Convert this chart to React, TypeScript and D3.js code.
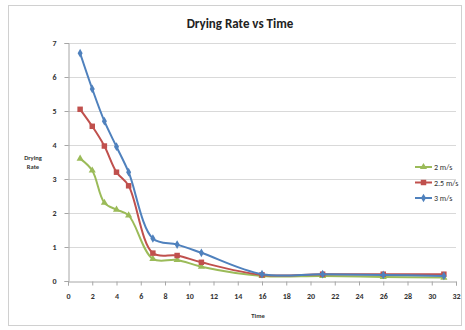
import React, { useEffect, useRef } from "react";
import * as d3 from "d3";

const times = [1, 2, 3, 4, 5, 7, 9, 11, 16, 21, 26, 31];
const rate2 = [3.6, 3.25, 2.3, 2.1, 1.93, 0.65, 0.62, 0.42, 0.15, 0.15, 0.12, 0.1];
const rate25 = [5.05, 4.55, 3.97, 3.2, 2.8, 0.82, 0.75, 0.55, 0.18, 0.2, 0.2, 0.2];
const rate3 = [6.7, 5.65, 4.7, 3.95, 3.2, 1.25, 1.07, 0.83, 0.2, 0.2, 0.18, 0.15];
const seriesNames = ["2 m/s", "2.5 m/s", "3 m/s"];
const xTicks = d3.range(0, 33, 2);
const yTicks = d3.range(0, 8, 1);

const App = () => {
  const ref = useRef<SVGSVGElement>(null);

  useEffect(() => {
    const svg = d3.select(ref.current);
    svg.selectAll("*").remove();

    const W = 465, H = 330;
    svg.attr("width", W).attr("height", H);

    svg.append("rect").attr("width", W).attr("height", H).attr("fill", "#fff");
    svg.append("rect")
      .attr("x", 8.5).attr("y", 5.5).attr("width", 453).attr("height", 320)
      .attr("fill", "#fff").attr("stroke", "#d0d0d0");

    const x = d3.scaleLinear().domain([0, 32]).range([68, 456]);
    const y = d3.scaleLinear().domain([0, 7]).range([281, 43]);

    const g = svg.append("g");

    // grid
    g.selectAll("line.grid")
      .data(yTicks.filter(d => d > 0))
      .enter().append("line")
      .attr("x1", x(0)).attr("x2", x(32))
      .attr("y1", d => y(d) + 0.5).attr("y2", d => y(d) + 0.5)
      .attr("stroke", "#d9d9d9");

    const xAxis = g.append("g")
      .attr("transform", `translate(0, ${y(0) + 0.5})`)
      .call(d3.axisBottom(x).tickValues(xTicks).tickFormat(d3.format("d")).tickSize(4).tickPadding(8));
    const yAxis = g.append("g")
      .attr("transform", `translate(${x(0) + 0.5}, 0)`)
      .call(d3.axisLeft(y).tickValues(yTicks).tickFormat(d3.format("d")).tickSize(4).tickPadding(8));

    [xAxis, yAxis].forEach(a => {
      a.select(".domain").attr("stroke", "#a6a6a6");
      a.selectAll(".tick line").attr("stroke", "#a6a6a6");
      a.selectAll("text")
        .attr("fill", "#333")
        .style("font-family", "Calibri, Carlito, 'Liberation Sans', sans-serif")
        .style("font-size", "8px")
        .style("font-weight", "bold");
    });

    const series = [
      { name: seriesNames[0], values: rate2, color: "#9bbb59", shape: d3.symbolTriangle, size: 22 },
      { name: seriesNames[1], values: rate25, color: "#c0504d", shape: d3.symbolSquare, size: 30 },
      { name: seriesNames[2], values: rate3, color: "#4f81bd", shape: d3.symbolDiamond, size: 22 },
    ];

    const line = d3.line<[number, number]>()
      .x(d => x(d[0]))
      .y(d => y(d[1]))
      .curve(d3.curveCatmullRom.alpha(0.5));

    series.forEach(s => {
      const pts: [number, number][] = times.map((t, i) => [t, s.values[i]]);
      g.append("path")
        .attr("d", line(pts))
        .attr("fill", "none")
        .attr("stroke", s.color)
        .attr("stroke-width", 2);
      g.selectAll(null)
        .data(pts)
        .enter().append("path")
        .attr("transform", d => `translate(${x(d[0])}, ${y(d[1])})`)
        .attr("d", d3.symbol().type(s.shape).size(s.size)())
        .attr("fill", s.color);
    });

    // legend
    const legend = svg.append("g");
    series.forEach((s, i) => {
      const ly = 167 + i * 15.5;
      legend.append("line")
        .attr("x1", 415).attr("x2", 432).attr("y1", ly).attr("y2", ly)
        .attr("stroke", s.color).attr("stroke-width", 2);
      legend.append("path")
        .attr("transform", `translate(423.5, ${ly})`)
        .attr("d", d3.symbol().type(s.shape).size(s.size)())
        .attr("fill", s.color);
      legend.append("text")
        .attr("x", 434).attr("y", ly + 3)
        .attr("fill", "#333")
        .style("font-family", "Calibri, Carlito, 'Liberation Sans', sans-serif")
        .style("font-size", "8px")
        .text(s.name);
    });

    svg.append("text")
      .attr("x", 240).attr("y", 28)
      .attr("text-anchor", "middle")
      .attr("fill", "#222")
      .style("font-family", "Calibri, Carlito, 'Liberation Sans', sans-serif")
      .style("font-size", "13px")
      .style("font-weight", "bold")
      .text("Drying Rate vs Time");

    const yl = svg.append("text")
      .attr("text-anchor", "middle")
      .attr("fill", "#333")
      .style("font-family", "Calibri, Carlito, 'Liberation Sans', sans-serif")
      .style("font-size", "6.5px")
      .style("font-weight", "bold");
    yl.append("tspan").attr("x", 33).attr("y", 160).text("Drying");
    yl.append("tspan").attr("x", 33).attr("y", 169).text("Rate");

    svg.append("text")
      .attr("x", 258).attr("y", 318)
      .attr("text-anchor", "middle")
      .attr("fill", "#333")
      .style("font-family", "Calibri, Carlito, 'Liberation Sans', sans-serif")
      .style("font-size", "6.5px")
      .style("font-weight", "bold")
      .text("Time");
  }, []);

  return <svg ref={ref} style={{ position: "absolute", left: 0, top: 0 }}></svg>;
};

export default App;
